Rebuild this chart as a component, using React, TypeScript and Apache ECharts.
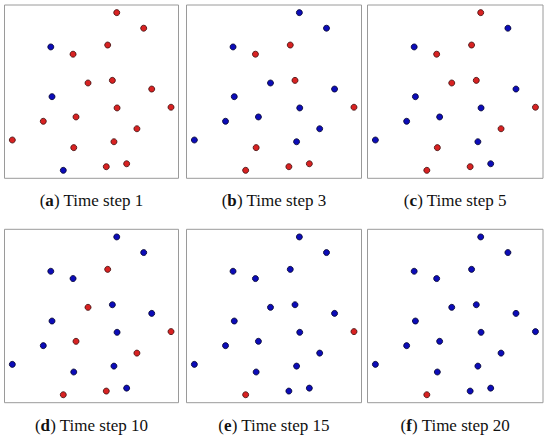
import React, { useEffect, useRef } from "react";
import * as echarts from "echarts";

// Point positions (fraction of the panel box, 0..100; y measured from bottom)
const pointX = [64.5, 80.0, 26.6, 59.3, 39.4, 48.0, 62.0, 84.6, 27.3, 64.7, 95.7, 41.1, 22.3, 76.1, 4.5, 39.8, 62.9, 70.2, 58.5, 33.8];
const pointY = [95.6, 86.6, 75.8, 76.9, 71.6, 55.0, 56.5, 51.5, 47.1, 40.6, 41.0, 35.4, 32.9, 28.6, 22.1, 17.7, 21.1, 8.4, 6.7, 4.6];

// Panel labels and time steps
const panelLetters = ["a", "b", "c", "d", "e", "f"];
const timeSteps = [1, 3, 5, 10, 15, 20];

// State of each point at each time step (R = red, B = blue)
const states = [
  "RRBRRRRRBRRRRRRRRRRB",
  "BBBRRBRBBBRBBBBRBRRR",
  "RBBRRRRBBBRBBRBRBBRR",
  "BBBRBRBBBBRRBRBBBBRR",
  "BBBBBBBBBBRBBBBBBBBR",
  "BBBBBBBBBBBBBBBBBBBR",
];

const cols = [
  { left: 4.5, width: 174 },
  { left: 186.5, width: 175 },
  { left: 367.5, width: 175.5 },
];
const rows = [
  { top: 5, height: 173.3 },
  { top: 229.3, height: 173.4 },
];
const captionY = [200, 425.5];

export default function App() {
  const ref = useRef<HTMLDivElement>(null);
  useEffect(() => {
    if (!ref.current) return;
    const chart = echarts.init(ref.current, undefined, { renderer: "svg" });
    const grid: any[] = [];
    const xAxis: any[] = [];
    const yAxis: any[] = [];
    const series: any[] = [];
    const graphic: any[] = [];
    panelLetters.forEach((letter, i) => {
      const c = cols[i % 3];
      const r = rows[Math.floor(i / 3)];
      grid.push({
        left: c.left,
        top: r.top,
        width: c.width,
        height: r.height,
        show: true,
        borderColor: "#9a9a9a",
        borderWidth: 1,
        backgroundColor: "transparent",
      });
      xAxis.push({ gridIndex: i, type: "value", min: 0, max: 100, show: false });
      yAxis.push({ gridIndex: i, type: "value", min: 0, max: 100, show: false });
      const st = states[i];
      const red: number[][] = [];
      const blue: number[][] = [];
      pointX.forEach((x, k) => {
        if (st[k] === "R") red.push([x, pointY[k]]);
        else blue.push([x, pointY[k]]);
      });
      series.push({
        type: "scatter",
        xAxisIndex: i,
        yAxisIndex: i,
        data: red,
        symbolSize: 6,
        itemStyle: { color: "#d82222", borderColor: "#3a0a0a", borderWidth: 0.8, opacity: 1 },
      });
      series.push({
        type: "scatter",
        xAxisIndex: i,
        yAxisIndex: i,
        data: blue,
        symbolSize: 6,
        itemStyle: { color: "#0c0cb8", borderColor: "#00002a", borderWidth: 0.8, opacity: 1 },
      });
      graphic.push({
        type: "text",
        x: c.left + c.width / 2,
        y: captionY[Math.floor(i / 3)],
        style: {
          text: `{n|(}{b|${letter}}{n|) Time step ${timeSteps[i]}}`,
          align: "center",
          verticalAlign: "middle",
          rich: {
            n: { fontFamily: "Liberation Serif", fontSize: 17, fill: "#111" },
            b: { fontFamily: "Liberation Serif", fontSize: 17, fontWeight: "bold", fill: "#111" },
          },
        },
      });
    });
    chart.setOption({
      animation: false,
      backgroundColor: "#ffffff",
      grid,
      xAxis,
      yAxis,
      series,
      graphic,
    });
    return () => chart.dispose();
  }, []);
  return (
    <div
      ref={ref}
      style={{ position: "fixed", left: 0, top: 0, width: 550, height: 441 }}
    />
  );
}
